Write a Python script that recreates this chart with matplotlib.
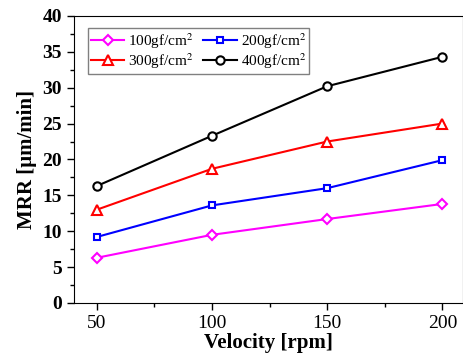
import numpy as np
import matplotlib
matplotlib.use("Agg")
import matplotlib.pyplot as plt
from matplotlib.ticker import MultipleLocator

plt.rcParams['font.family'] = ['Liberation Serif', 'DejaVu Serif']
plt.rcParams['mathtext.fontset'] = 'stix'

velocity = [50, 100, 150, 200]
mrr_100 = [6.3, 9.5, 11.7, 13.8]
mrr_200 = [9.2, 13.6, 16.0, 19.9]
mrr_300 = [13.0, 18.7, 22.5, 25.0]
mrr_400 = [16.3, 23.3, 30.2, 34.3]
labels = ['100gf/cm$^2$', '200gf/cm$^2$', '300gf/cm$^2$', '400gf/cm$^2$']

fig = plt.figure(figsize=(4.64, 3.62), dpi=100)
ax = fig.add_axes([0.159, 0.163, 0.839, 0.793])

h1, = ax.plot(velocity, mrr_100, color='magenta', marker='D', ms=5.5, mfc='white', mew=1.5, lw=1.5, label=labels[0])
h2, = ax.plot(velocity, mrr_200, color='blue', marker='s', ms=5, mfc='white', mew=1.5, lw=1.5, label=labels[1])
h3, = ax.plot(velocity, mrr_300, color='red', marker='^', ms=6.5, mfc='white', mew=1.5, lw=1.5, label=labels[2])
h4, = ax.plot(velocity, mrr_400, color='black', marker='o', ms=6, mfc='white', mew=1.5, lw=1.5, label=labels[3])

ax.set_xlim(40, 209)
ax.set_ylim(0, 40)
ax.xaxis.set_major_locator(MultipleLocator(50))
ax.xaxis.set_minor_locator(MultipleLocator(25))
ax.yaxis.set_major_locator(MultipleLocator(5))
ax.yaxis.set_minor_locator(MultipleLocator(2.5))
ax.tick_params(which='major', direction='out', length=5, width=1, labelsize=14)
ax.tick_params(which='minor', direction='out', length=3, width=1)
for t in ax.get_yticklabels():
    t.set_fontweight('bold')

ax.set_xlabel('Velocity [rpm]', fontsize=15, fontweight='bold', labelpad=1)
ax.set_ylabel('MRR [μm/min]', fontsize=15, fontweight='bold', labelpad=4)

leg = ax.legend([h1, h3, h2, h4], [labels[0], labels[2], labels[1], labels[3]],
                ncol=2, loc='upper left', bbox_to_anchor=(0.036, 0.958), borderaxespad=0,
                fontsize=11, fancybox=False, edgecolor='gray', framealpha=1, handlelength=2.2,
                handletextpad=0.25, columnspacing=0.6, borderpad=0.2, labelspacing=0.02)
leg.get_frame().set_linewidth(1)

fig.savefig('out.png', dpi=100)
